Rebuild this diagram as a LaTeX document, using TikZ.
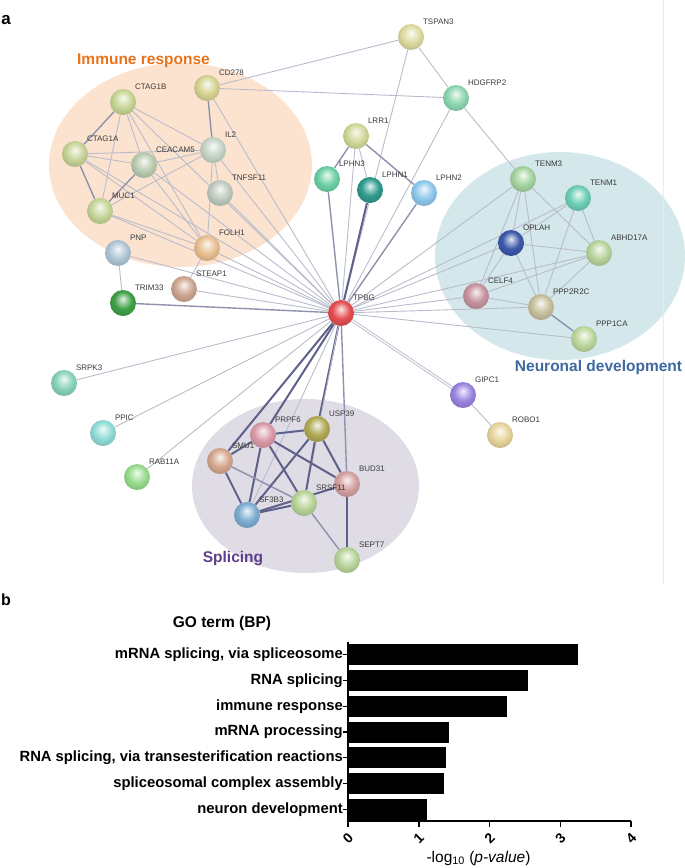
\documentclass[tikz,border=0pt]{standalone}
\usepackage{fontspec}
\setmainfont{Liberation Sans}
\usetikzlibrary{positioning}

\definecolor{immbg}{HTML}{FCE3CF}
\definecolor{neubg}{HTML}{D4E7EB}
\definecolor{splbg}{HTML}{DFDCE6}
\definecolor{immtxt}{HTML}{E8731A}
\definecolor{neutxt}{HTML}{3E68A0}
\definecolor{spltxt}{HTML}{5C3F8A}
\definecolor{lbltxt}{HTML}{3A3A3A}
\definecolor{lnkweak}{HTML}{B9BCCC}
\definecolor{lnkmid}{HTML}{8E91AE}
\definecolor{lnkstrong}{HTML}{5E6189}
\definecolor{sphc}{RGB}{200,200,200}

\pgfdeclareradialshading[sphc]{sphere}{\pgfpoint{0bp}{8bp}}{%
  color(0bp)=(sphc!12!white); color(7bp)=(sphc!50!white);
  color(17bp)=(sphc); color(27bp)=(sphc!88!black);
  color(31bp)=(sphc!70!black); color(50bp)=(sphc!70!black)}

\pgfdeclarelayer{blobs}
\pgfdeclarelayer{links}
\pgfsetlayers{blobs,links,main}

\begin{document}
\begin{tikzpicture}[x=1pt,y=-1pt,
  prot/.style={circle,inner sep=0pt,minimum size=26pt,shading=sphere},
  sph/.code={\definecolor{sphc}{RGB}{#1}},
  plbl/.style={inner sep=0pt,font=\fontsize{8}{9}\selectfont,text=lbltxt},
  lnk/.style={draw=lnkweak,line width=0.9pt},
  lnkm/.style={draw=lnkmid,line width=1.4pt},
  lnks/.style={draw=lnkstrong,line width=2pt},
  golbl/.style={inner sep=0pt,anchor=east,font=\fontsize{14.8}{16}\selectfont\bfseries},
  tick/.style={inner sep=0pt,rotate=45,font=\fontsize{14}{15}\selectfont\bfseries},
  node distance=2.5pt and 2.5pt]
\useasboundingbox (0,0) rectangle (685,868);

\node[font=\fontsize{17}{19}\selectfont\bfseries] (pa) at (6,20) {a};
\node[font=\fontsize{16}{18}\selectfont\bfseries] (pb) at (6,600) {b};

% clusters
\begin{pgfonlayer}{blobs}
\fill[immbg] (180.5,165) ellipse [x radius=131.5pt, y radius=102pt];
\fill[neubg] (560,256) ellipse [x radius=125pt, y radius=104pt];
\fill[splbg] (305.5,486) ellipse [x radius=113.5pt, y radius=87pt];
\draw[black!8] (663,0) -- (663,585);
\end{pgfonlayer}
\node[text=immtxt,font=\fontsize{15.5}{18}\selectfont\bfseries] (timm) at (143.5,61) {Immune response};
\node[text=neutxt,font=\fontsize{15.5}{18}\selectfont\bfseries] (tneu) at (598.5,367) {Neuronal development};
\node[text=spltxt,font=\fontsize{15.5}{18}\selectfont\bfseries] (tspl) at (233,559) {Splicing};

\node[prot,sph={228,78,80}] (tpbg) at (341,313) {};
\node[prot,sph={200,214,150}] (ctag1b) at (123,102) {};
\node[prot,sph={214,212,146}] (cd278) at (207,88) {};
\node[prot,sph={198,212,152}] (ctag1a) at (75,154) {};
\node[prot,sph={186,204,176}] (ceacam5) at (144,165) {};
\node[prot,sph={198,212,200}] (il2) at (213,150) {};
\node[prot,sph={192,202,190}] (tnfsf11) at (220,193) {};
\node[prot,sph={198,214,152}] (muc1) at (100,211) {};
\node[prot,sph={232,192,146}] (folh1) at (207,248) {};
\node[prot,sph={176,198,214}] (pnp) at (118,253) {};
\node[prot,sph={204,166,144}] (steap1) at (184,289) {};
\node[prot,sph={64,160,70}] (trim33) at (123,303) {};
\node[prot,sph={222,218,160}] (tspan3) at (411,37) {};
\node[prot,sph={142,214,176}] (hdgfrp2) at (456,98) {};
\node[prot,sph={210,216,154}] (lrr1) at (356,136) {};
\node[prot,sph={110,208,166}] (lphn3) at (327,179) {};
\node[prot,sph={46,154,140}] (lphn1) at (370,190) {};
\node[prot,sph={142,200,236}] (lphn2) at (424,193) {};
\node[prot,sph={164,212,160}] (tenm3) at (523,179) {};
\node[prot,sph={110,206,182}] (tenm1) at (578,198) {};
\node[prot,sph={60,88,170}] (oplah) at (511,243) {};
\node[prot,sph={184,212,156}] (abhd17a) at (599,253) {};
\node[prot,sph={198,148,160}] (celf4) at (476,296) {};
\node[prot,sph={200,192,156}] (ppp2r2c) at (541,307) {};
\node[prot,sph={188,216,156}] (ppp1ca) at (584,339) {};
\node[prot,sph={154,132,224}] (gipc1) at (463,395) {};
\node[prot,sph={230,212,154}] (robo1) at (500,435) {};
\node[prot,sph={136,212,184}] (srpk3) at (64,383) {};
\node[prot,sph={144,220,216}] (ppic) at (103,433) {};
\node[prot,sph={152,220,142}] (rab11a) at (137,477) {};
\node[prot,sph={218,154,168}] (prpf6) at (263,435) {};
\node[prot,sph={176,170,86}] (usp39) at (317,429) {};
\node[prot,sph={212,168,142}] (smu1) at (220,461) {};
\node[prot,sph={126,174,210}] (sf3b3) at (247,515) {};
\node[prot,sph={184,212,152}] (srsf11) at (304,503) {};
\node[prot,sph={212,160,160}] (bud31) at (347,484) {};
\node[prot,sph={184,212,156}] (sept7) at (347,560) {};

\node[plbl,above right=of tpbg] (tpbg-t) {TPBG};
\node[plbl,above right=of ctag1b] (ctag1b-t) {CTAG1B};
\node[plbl,above right=of cd278] (cd278-t) {CD278};
\node[plbl,above right=of ctag1a] (ctag1a-t) {CTAG1A};
\node[plbl,above right=of ceacam5] (ceacam5-t) {CEACAM5};
\node[plbl,above right=of il2] (il2-t) {IL2};
\node[plbl,above right=of tnfsf11] (tnfsf11-t) {TNFSF11};
\node[plbl,above right=of muc1] (muc1-t) {MUC1};
\node[plbl,above right=of folh1] (folh1-t) {FOLH1};
\node[plbl,above right=of pnp] (pnp-t) {PNP};
\node[plbl,above right=of steap1] (steap1-t) {STEAP1};
\node[plbl,above right=of trim33] (trim33-t) {TRIM33};
\node[plbl,above right=of tspan3] (tspan3-t) {TSPAN3};
\node[plbl,above right=of hdgfrp2] (hdgfrp2-t) {HDGFRP2};
\node[plbl,above right=of lrr1] (lrr1-t) {LRR1};
\node[plbl,above right=of lphn3] (lphn3-t) {LPHN3};
\node[plbl,above right=of lphn1] (lphn1-t) {LPHN1};
\node[plbl,above right=of lphn2] (lphn2-t) {LPHN2};
\node[plbl,above right=of tenm3] (tenm3-t) {TENM3};
\node[plbl,above right=of tenm1] (tenm1-t) {TENM1};
\node[plbl,above right=of oplah] (oplah-t) {OPLAH};
\node[plbl,above right=of abhd17a] (abhd17a-t) {ABHD17A};
\node[plbl,above right=of celf4] (celf4-t) {CELF4};
\node[plbl,above right=of ppp2r2c] (ppp2r2c-t) {PPP2R2C};
\node[plbl,above right=of ppp1ca] (ppp1ca-t) {PPP1CA};
\node[plbl,above right=of gipc1] (gipc1-t) {GIPC1};
\node[plbl,above right=of robo1] (robo1-t) {ROBO1};
\node[plbl,above right=of srpk3] (srpk3-t) {SRPK3};
\node[plbl,above right=of ppic] (ppic-t) {PPIC};
\node[plbl,above right=of rab11a] (rab11a-t) {RAB11A};
\node[plbl,above right=of prpf6] (prpf6-t) {PRPF6};
\node[plbl,above right=of usp39] (usp39-t) {USP39};
\node[plbl,above right=of smu1] (smu1-t) {SMU1};
\node[plbl,above right=of sf3b3] (sf3b3-t) {SF3B3};
\node[plbl,above right=of srsf11] (srsf11-t) {SRSF11};
\node[plbl,above right=of bud31] (bud31-t) {BUD31};
\node[plbl,above right=of sept7] (sept7-t) {SEPT7};

\begin{pgfonlayer}{links}
% immune response
\draw[lnkm] (ctag1b) -- (ctag1a);
\draw[lnk] (ctag1b) -- (muc1);
\draw[lnk] (ctag1b) -- (ceacam5);
\draw[lnk] (ctag1b) -- (il2);
\draw[lnk] (ctag1b) -- (folh1);
\draw[lnk] (ctag1b) -- (tpbg);
\draw[lnkm] (cd278) -- (il2);
\draw[lnk] (cd278) -- (tpbg);
\draw[lnk] (cd278) -- (tspan3);
\draw[lnk] (cd278) -- (hdgfrp2);
\draw[lnk] (ctag1a) -- (ceacam5);
\draw[lnk] (ctag1a) -- (il2);
\draw[lnkm] (ctag1a) -- (muc1);
\draw[lnk] (ctag1a) -- (folh1);
\draw[lnk] (ctag1a) -- (tpbg);
\draw[lnkm] (ceacam5) -- (muc1);
\draw[lnk] (ceacam5) -- (il2);
\draw[lnk] (ceacam5) -- (folh1);
\draw[lnk] (ceacam5) -- (tpbg);
\draw[lnk] (muc1) -- (il2);
\draw[lnk] (muc1) -- (folh1);
\draw[lnk] (muc1) -- (tpbg);
\draw[lnk] (il2) -- (tnfsf11);
\draw[lnk] (il2) -- (folh1);
\draw[lnk] (il2) -- (tpbg);
\draw[lnk] (tnfsf11) -- (tpbg);
\draw[lnk] (folh1) -- (steap1);
\draw[lnk] (folh1) -- (tpbg);
\draw[lnk] (pnp) -- (trim33);
\draw[lnk] (pnp) -- (tpbg);
\draw[lnk] (steap1) -- (tpbg);
\draw[lnkm] (trim33) -- (tpbg);
% top
\draw[lnk] (tspan3) -- (hdgfrp2);
\draw[lnk] (tspan3) -- (tpbg);
\draw[lnk] (hdgfrp2) -- (tenm3);
\draw[lnk] (hdgfrp2) -- (tpbg);
\draw[lnkm] (lrr1) -- (lphn3);
\draw[lnk] (lrr1) -- (lphn1);
\draw[lnkm] (lrr1) -- (lphn2);
\draw[lnk] (lrr1) -- (tpbg);
\draw[lnkm] (lphn3) -- (tpbg);
\draw[lnks] (lphn1) -- (tpbg);
\draw[lnkm] (lphn2) -- (tpbg);
% neuronal development
\draw[lnk] (tenm3) -- (oplah);
\draw[lnk] (tenm3) -- (celf4);
\draw[lnk] (tenm3) -- (ppp2r2c);
\draw[lnk] (tenm3) -- (abhd17a);
\draw[lnk] (tenm3) -- (tpbg);
\draw[lnk] (tenm1) -- (oplah);
\draw[lnk] (tenm1) -- (abhd17a);
\draw[lnk] (tenm1) -- (ppp2r2c);
\draw[lnk] (tenm1) -- (tpbg);
\draw[lnk] (oplah) -- (abhd17a);
\draw[lnk] (oplah) -- (celf4);
\draw[lnk] (oplah) -- (ppp2r2c);
\draw[lnk] (oplah) -- (tpbg);
\draw[lnk] (abhd17a) -- (celf4);
\draw[lnk] (abhd17a) -- (ppp2r2c);
\draw[lnk] (abhd17a) -- (tpbg);
\draw[lnk] (celf4) -- (ppp2r2c);
\draw[lnk] (celf4) -- (tpbg);
\draw[lnkm] (ppp2r2c) -- (ppp1ca);
\draw[lnk] (ppp2r2c) -- (tpbg);
\draw[lnk] (ppp1ca) -- (tpbg);
% others
\draw[lnk,double=white,double distance=1.2pt] (tpbg) -- (gipc1);
\draw[lnk] (gipc1) -- (robo1);
\draw[lnk] (srpk3) -- (tpbg);
\draw[lnk] (ppic) -- (tpbg);
\draw[lnk] (rab11a) -- (tpbg);
% splicing
\draw[lnks] (tpbg) -- (prpf6);
\draw[lnks] (tpbg) -- (smu1);
\draw[lnk] (tpbg) -- (sf3b3);
\draw[lnks] (tpbg) -- (usp39);
\draw[lnkm] (tpbg) -- (bud31);
\draw[lnk] (tpbg) -- (srsf11);
\draw[lnks] (prpf6) -- (usp39);
\draw[lnks] (prpf6) -- (smu1);
\draw[lnks] (prpf6) -- (sf3b3);
\draw[lnks] (prpf6) -- (srsf11);
\draw[lnks] (prpf6) -- (bud31);
\draw[lnks] (smu1) -- (sf3b3);
\draw[lnkm] (smu1) -- (srsf11);
\draw[lnks] (usp39) -- (sf3b3);
\draw[lnks] (usp39) -- (srsf11);
\draw[lnks] (usp39) -- (bud31);
\draw[lnks] (sf3b3) -- (srsf11);
\draw[lnks] (sf3b3) -- (bud31);
\draw[lnkm] (srsf11) -- (sept7);
\draw[lnks] (bud31) -- (sept7);
\end{pgfonlayer}

% GO term bar chart
\node[font=\fontsize{15.5}{17}\selectfont\bfseries] (gohead) at (222,623) {GO term (BP)};
\node[golbl] (go1) at (343,654.8) {mRNA splicing, via spliceosome};
\node[golbl] (go2) at (343,680.5) {RNA splicing};
\node[golbl] (go3) at (343,706.2) {immune response};
\node[golbl] (go4) at (343,732) {mRNA processing};
\node[golbl] (go5) at (343,757.7) {RNA splicing, via transesterification reactions};
\node[golbl] (go6) at (343,783.4) {spliceosomal complex assembly};
\node[golbl] (go7) at (343,809.2) {neuron development};

\fill (348,644.3) rectangle (578.4,665.3);
\fill (348,670.0) rectangle (527.8,691.0);
\fill (348,695.7) rectangle (507.3,716.7);
\fill (348,721.5) rectangle (449.2,742.5);
\fill (348,747.2) rectangle (446.3,768.2);
\fill (348,772.9) rectangle (444.3,793.9);
\fill (348,798.7) rectangle (427.3,819.7);

\draw[line width=1.8pt] (348,641.7) -- (348,820.7) -- (631,820.7);
\foreach \y in {654.8,680.5,706.2,732,757.7,783.4,809.2}
  \draw[line width=1.2pt] (343,\y) -- (348,\y);
\foreach \x in {348,418.8,489.6,560.4,631.2}
  \draw[line width=1.5pt] (\x,820.7) -- (\x,827);

\node[tick] (x0) at (348,838) {0};
\node[tick] (x1) at (418.8,838) {1};
\node[tick] (x2) at (489.6,838) {2};
\node[tick] (x3) at (560.4,838) {3};
\node[tick] (x4) at (631.2,838) {4};
\node[font=\fontsize{15.5}{17}\selectfont] (xlab) at (478.5,858) {-log\textsubscript{10} (\textit{p-value})};
\end{tikzpicture}
\end{document}
